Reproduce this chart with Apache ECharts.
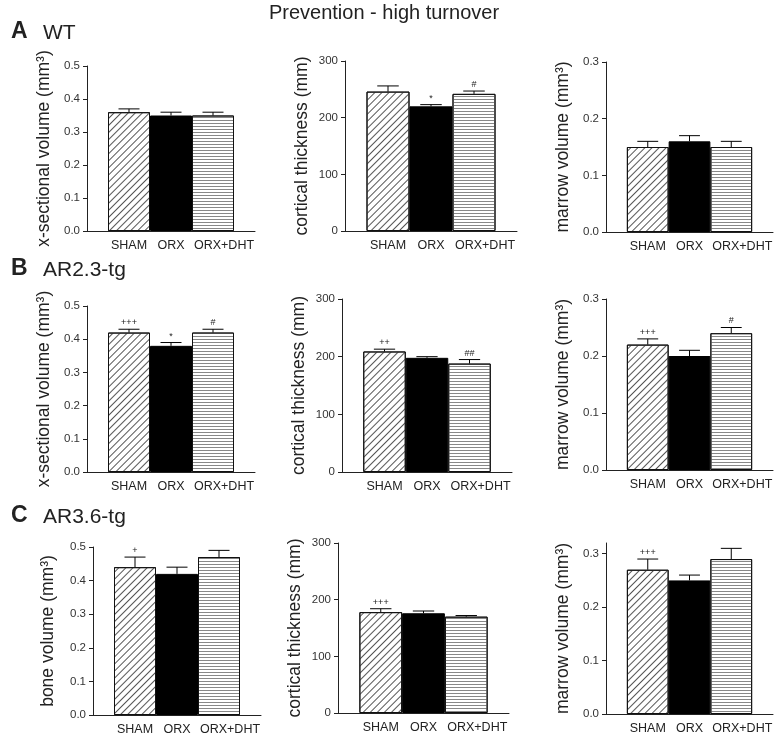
<!DOCTYPE html>
<html>
<head>
<meta charset="utf-8">
<title>Prevention - high turnover</title>
<script src="https://cdn.jsdelivr.net/npm/echarts@6/dist/echarts.min.js"></script>
<style>
  html, body { margin: 0; padding: 0; background: #fff; }
  #chart { width: 776px; height: 739px; }
</style>
</head>
<body>
<div id="chart"></div>
<script>
const groups = ['SHAM', 'ORX', 'ORX+DHT'];

// tick labels
const volumeTicks = [0, 0.1, 0.2, 0.3, 0.4, 0.5];
const corticalTicks = [0, 100, 200, 300];
const marrowTicks = [0, 0.1, 0.2, 0.3];

// A  WT
const wtVolume = [0.36, 0.35, 0.35];
const wtVolumeErr = [0.01, 0.01, 0.01];
const wtVolumeSig = ['', '', ''];
const wtCortical = [246, 220, 242];
const wtCorticalErr = [10, 3, 5];
const wtCorticalSig = ['', '*', '#'];
const wtMarrow = [0.15, 0.16, 0.15];
const wtMarrowErr = [0.01, 0.01, 0.01];
const wtMarrowSig = ['', '', ''];

// B  AR2.3-tg
const ar23Volume = [0.42, 0.38, 0.42];
const ar23VolumeErr = [0.01, 0.01, 0.01];
const ar23VolumeSig = ['+++', '*', '#'];
const ar23Cortical = [209, 198, 188];
const ar23CorticalErr = [4, 2, 7];
const ar23CorticalSig = ['++', '', '##'];
const ar23Marrow = [0.22, 0.20, 0.24];
const ar23MarrowErr = [0.01, 0.01, 0.01];
const ar23MarrowSig = ['+++', '', '#'];

// C  AR3.6-tg
const ar36Volume = [0.44, 0.42, 0.47];
const ar36VolumeErr = [0.03, 0.02, 0.02];
const ar36VolumeSig = ['+', '', ''];
const ar36Cortical = [178, 176, 170];
const ar36CorticalErr = [6, 4, 2];
const ar36CorticalSig = ['+++', '', ''];
const ar36Marrow = [0.27, 0.25, 0.29];
const ar36MarrowErr = [0.02, 0.01, 0.02];
const ar36MarrowSig = ['+++', '', ''];

const FONT = 'Liberation Sans, Arial, sans-serif';
const INK = '#222';

const panels = [
  { name: 'x-sectional volume (mm³)', max: 0.5, ticks: volumeTicks, dec: 1, v: wtVolume, e: wtVolumeErr, s: wtVolumeSig },
  { name: 'cortical thickness (mm)', max: 300, ticks: corticalTicks, dec: 0, v: wtCortical, e: wtCorticalErr, s: wtCorticalSig },
  { name: 'marrow volume (mm³)', max: 0.3, ticks: marrowTicks, dec: 1, v: wtMarrow, e: wtMarrowErr, s: wtMarrowSig },
  { name: 'x-sectional volume (mm³)', max: 0.5, ticks: volumeTicks, dec: 1, v: ar23Volume, e: ar23VolumeErr, s: ar23VolumeSig },
  { name: 'cortical thickness (mm)', max: 300, ticks: corticalTicks, dec: 0, v: ar23Cortical, e: ar23CorticalErr, s: ar23CorticalSig },
  { name: 'marrow volume (mm³)', max: 0.3, ticks: marrowTicks, dec: 1, v: ar23Marrow, e: ar23MarrowErr, s: ar23MarrowSig },
  { name: 'bone volume (mm³)', max: 0.5, ticks: volumeTicks, dec: 1, v: ar36Volume, e: ar36VolumeErr, s: ar36VolumeSig },
  { name: 'cortical thickness (mm)', max: 300, ticks: corticalTicks, dec: 0, v: ar36Cortical, e: ar36CorticalErr, s: ar36CorticalSig },
  { name: 'marrow volume (mm³)', max: 0.32, ticks: marrowTicks, dec: 1, v: ar36Marrow, e: ar36MarrowErr, s: ar36MarrowSig }
];

// grid boxes (y axis at left edge)
const grids = [
  { left: 87, top: 66, width: 168, height: 165 },
  { left: 345, top: 61, width: 172, height: 170 },
  { left: 606, top: 62, width: 170, height: 170 },
  { left: 87, top: 306, width: 168, height: 166 },
  { left: 342, top: 299, width: 170, height: 173 },
  { left: 606, top: 299, width: 170, height: 171 },
  { left: 93, top: 547, width: 168, height: 168 },
  { left: 338, top: 543, width: 171, height: 170 },
  { left: 606, top: 543, width: 170, height: 171 }
];

const barStyles = [
  { color: '#fff', borderColor: '#111', borderWidth: 1,
    decal: { symbol: 'rect', symbolSize: 1, color: '#555', dashArrayX: [1, 0], dashArrayY: [1, 4], rotation: -Math.PI / 4 } },
  { color: '#000', borderColor: '#000', borderWidth: 1 },
  { color: '#fff', borderColor: '#111', borderWidth: 1,
    decal: { symbol: 'rect', symbolSize: 1, color: '#888', dashArrayX: [1, 0], dashArrayY: [1, 2], rotation: 0 } }
];

const xAxes = [], yAxes = [], series = [];

panels.forEach((p, i) => {
  xAxes.push({
    gridIndex: i,
    type: 'category',
    data: [''].concat(groups, ['']),
    boundaryGap: false,
    axisLine: { lineStyle: { color: INK, width: 1 } },
    axisTick: { show: false },
    axisLabel: {
      interval: 0, margin: 8, fontSize: 12.5, color: INK, fontFamily: FONT,
      // last label sits a little right of its bar, as in the original
      formatter: (name) => name === groups[2] ? '{shift|' + name + '}' : name,
      rich: { shift: { fontSize: 12.5, color: INK, fontFamily: FONT, padding: [0, 0, 0, 22] } }
    }
  });
  yAxes.push({
    gridIndex: i,
    type: 'value',
    min: 0,
    max: p.max,
    name: p.name,
    nameLocation: 'middle',
    nameRotate: 90,
    nameGap: i === 6 ? 36 : 34,
    nameTextStyle: { fontSize: 17.5, color: INK, fontFamily: FONT },
    splitLine: { show: false },
    axisLine: { show: true, lineStyle: { color: INK, width: 1 } },
    axisTick: { show: true, length: 4, customValues: p.ticks, lineStyle: { color: INK } },
    axisLabel: {
      margin: 7, fontSize: 11.5, color: '#333', fontFamily: FONT,
      customValues: p.ticks,
      formatter: (val) => p.dec ? Number(val).toFixed(p.dec) : String(Math.round(val))
    }
  });

  series.push({
    type: 'bar',
    xAxisIndex: i,
    yAxisIndex: i,
    barWidth: '100%',
    silent: true,
    data: ['-'].concat(p.v.map((val, k) => ({ value: val, itemStyle: barStyles[k] })), ['-'])
  });

  // error bars (upper only) with significance marks
  series.push({
    type: 'custom',
    xAxisIndex: i,
    yAxisIndex: i,
    z: 5,
    silent: true,
    encode: { x: 0, y: 1 },
    data: p.v.map((val, k) => [k + 1, val, p.e[k]]),
    renderItem: (params, api) => {
      const x = api.value(0), val = api.value(1), err = api.value(2);
      const base = api.coord([x, val]);
      const top = api.coord([x, val + err]);
      const half = api.size([1, 0])[0] * 0.25;
      const mark = p.s[params.dataIndex];
      const children = [
        { type: 'line', shape: { x1: base[0], y1: base[1], x2: top[0], y2: top[1] },
          style: { stroke: '#000', lineWidth: 1 } },
        { type: 'line', shape: { x1: top[0] - half, y1: top[1], x2: top[0] + half, y2: top[1] },
          style: { stroke: '#000', lineWidth: 1 } }
      ];
      if (mark) {
        children.push({
          type: 'text',
          style: { text: mark, x: top[0], y: top[1] - 2, font: '9px ' + FONT, fill: INK,
                   align: 'center', verticalAlign: 'bottom', textAlign: 'center', textVerticalAlign: 'bottom' }
        });
      }
      return { type: 'group', children: children };
    }
  });
});

function label(x, y, text, font) {
  return { type: 'text', x: x, y: y,
    style: { text: text, font: font, fill: INK, verticalAlign: 'middle', textVerticalAlign: 'middle' } };
}

const chart = echarts.init(document.getElementById('chart'), null, { renderer: 'canvas' });
chart.setOption({
  animation: false,
  backgroundColor: '#fff',
  textStyle: { fontFamily: FONT },
  graphic: [
    { type: 'text', x: 384, y: 13,
      style: { text: 'Prevention - high turnover', font: '20px ' + FONT, fill: INK,
               align: 'center', verticalAlign: 'middle', textAlign: 'center', textVerticalAlign: 'middle' } },
    label(11, 32, 'A', 'bold 23px ' + FONT),
    label(43, 33, 'WT', '21px ' + FONT),
    label(11, 269, 'B', 'bold 23px ' + FONT),
    label(43, 270, 'AR2.3-tg', '21px ' + FONT),
    label(11, 516, 'C', 'bold 23px ' + FONT),
    label(43, 517, 'AR3.6-tg', '21px ' + FONT)
  ],
  grid: grids,
  xAxis: xAxes,
  yAxis: yAxes,
  series: series
});
</script>
</body>
</html>
